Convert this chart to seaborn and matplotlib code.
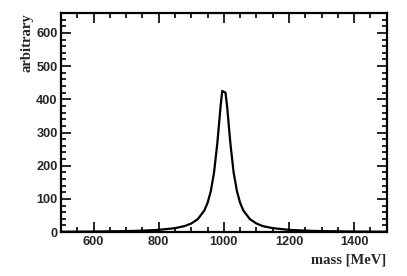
import matplotlib
matplotlib.use("Agg")
import matplotlib.pyplot as plt
import seaborn as sns
import pandas as pd
from matplotlib.ticker import MultipleLocator

mass = [500, 600, 700, 750, 800, 850, 880, 900, 920, 940, 950, 960, 970,
        980, 985, 990, 995, 1005, 1010, 1015, 1020, 1030, 1040, 1050, 1060,
        1080, 1100, 1120, 1150, 1200, 1250, 1300, 1400, 1500]
value = [1.1, 1.7, 3.0, 4.4, 6.8, 11.9, 18.3, 25.9, 39.1, 65.1, 88, 123.6, 180.3,
         268.3, 323.5, 379.3, 425, 420, 379, 323, 268, 180, 124, 88, 65,
         39, 26, 18, 12, 6.8, 4.4, 3.0, 1.7, 1.1]
x_title = "mass [MeV]"
y_title = "arbitrary"

df = pd.DataFrame({"mass": mass, "value": value})

sns.set_theme(style="ticks")
plt.rcParams["font.family"] = ["Liberation Sans", "DejaVu Sans"]

fig = plt.figure(figsize=(4.07, 2.76), dpi=100)
ax = fig.add_axes([0.150, 0.159, 0.800, 0.794])
sns.lineplot(data=df, x="mass", y="value", ax=ax, color="black", linewidth=1.6)

ax.set_xlim(500, 1500)
ax.set_ylim(0, 660)
ax.xaxis.set_major_locator(MultipleLocator(200))
ax.xaxis.set_minor_locator(MultipleLocator(50))
ax.yaxis.set_major_locator(MultipleLocator(100))
ax.yaxis.set_minor_locator(MultipleLocator(20))
ax.tick_params(which="both", direction="in", top=True, right=True, color="black",
               width=1.2)
ax.tick_params(which="major", length=7, labelsize=9.2, pad=2.5)
ax.tick_params(which="minor", length=3.5)
for lab in ax.get_xticklabels() + ax.get_yticklabels():
    lab.set_fontweight("bold")
for s in ax.spines.values():
    s.set_linewidth(1.6)
    s.set_color("black")

ax.set_xlabel(x_title, fontfamily=["Liberation Serif", "DejaVu Serif"],
              fontweight="bold", fontsize=10.5, loc="right", labelpad=4)
ax.set_ylabel(y_title, fontfamily=["Liberation Serif", "DejaVu Serif"],
              fontweight="bold", fontsize=10.5, loc="top", labelpad=2)

fig.savefig("out.png", dpi=100)
